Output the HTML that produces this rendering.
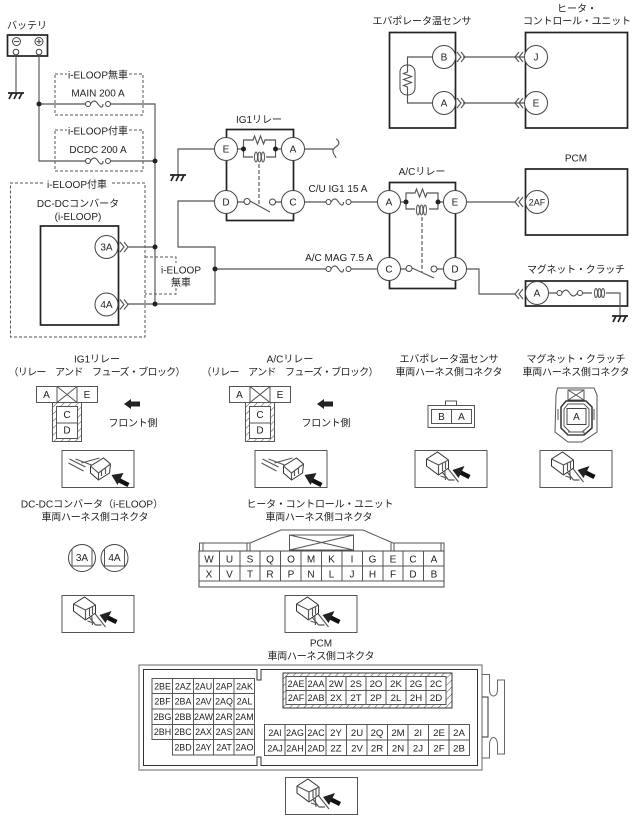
<!DOCTYPE html>
<html><head><meta charset="utf-8"><style>
html,body{margin:0;padding:0;background:#fff}
svg{display:block}
text{font-family:"Liberation Sans","Noto Sans CJK JP",sans-serif;font-size:10px;fill:#222;text-anchor:middle}
.w{fill:none;stroke:#555;stroke-width:1.15}
.k{fill:none;stroke:#222;stroke-width:1.7}
.d{fill:none;stroke:#555;stroke-width:1;stroke-dasharray:3 2}
.c{fill:#fff;stroke:#444;stroke-width:1}
.g{fill:none;stroke:#555;stroke-width:1}
.b{fill:#222;stroke:none}
.s text{font-size:8.9px}
</style></head><body>
<svg width="636" height="815" viewBox="0 0 636 815" xmlns="http://www.w3.org/2000/svg">
<defs>
<pattern id="h" width="5" height="5" patternUnits="userSpaceOnUse" patternTransform="rotate(-45)"><rect width="5" height="5" fill="#fff"/><line x1="0" y1="0" x2="5" y2="0" stroke="#555" stroke-width="1.1"/></pattern>
<g id="fuse"><rect x="0" y="-4" width="25" height="8" fill="#fff"/><circle class="c" cx="2.5" r="2.5"/><circle class="c" cx="22.5" r="2.5"/><path class="w" d="M5,0c2.500,-4 5,-4 7.500,0s5,4 5,0"/></g>
<g id="gnd"><path d="M-8,0H8M-4,0L-7,6M1,0L-2,6M6,0L3,6" fill="none" stroke="#222" stroke-width="1.700"/></g>
<path id="chR" class="w" d="M0,-5L4,0L0,5M4,-5L8,0L4,5"/>
<path id="chL" class="w" d="M8,-5L4,0L8,5M4,-5L0,0L4,5"/>
<g id="iconA"><rect x="0.500" y="0.500" width="72" height="37" class="g" fill="#fff"/>
<path class="w" d="M8,9L24,17M7,13L22,21M14,9L30,15M20,13L38,8"/>
<path fill="#fff" stroke="#333" d="M29,16L42,8L49,14L48,23L37,30L29,23Z"/><path class="w" d="M29,16L37,23L49,14M37,23V30M40,20V26M44,18V24"/>
<path stroke="#111" stroke-width="4.500" d="M67,35L55,29"/><path class="b" d="M50,25L62,23L56,35Z"/></g>
<g id="iconB"><rect x="0.500" y="0.500" width="72" height="37" class="g" fill="#fff"/>
<path class="w" d="M26,20L34,30M30,18L31,30M33,18L44,32M34,30H40M32,28L26,26"/>
<path fill="#fff" stroke="#333" d="M12,9L23,2L34,10L34,18L24,25L12,16Z"/><path class="w" d="M12,9L24,15L34,10M24,15V25M28,13V21M31,12V19"/>
<path stroke="#111" stroke-width="4.500" d="M55,27L45,22"/><path class="b" d="M38,20L50,16L44,28Z"/></g>
</defs>

<!-- Battery -->
<text x="27" y="29">バッテリ</text>
<rect x="7.500" y="35" width="40" height="21" class="k"/>
<circle class="c" cx="16.500" cy="41.500" r="4"/><path class="w" d="M14,41.500H19"/>
<circle class="c" cx="39" cy="41.500" r="4"/><path class="w" d="M36.500,41.500H41.500M39,39V44"/>
<circle class="c" cx="16" cy="52" r="2.800"/><circle class="c" cx="39" cy="52" r="2.800"/>
<path class="w" d="M16,55V92M39,55V161H155M39,104H155V304M155,247H128M128,304H215V247H178V201H215M215,269H378"/>
<use href="#gnd" x="16" y="93"/>
<path class="d" d="M55,74H67M129,74H143V115H55V74"/>
<path class="d" d="M55,130H67M129,130H143V171H55V130"/>
<text x="98" y="78.500">i-ELOOP無車</text>
<text x="98" y="96.500">MAIN 200 A</text>
<text x="98" y="134.500">i-ELOOP付車</text>
<text x="98" y="153">DCDC 200 A</text>
<use href="#fuse" x="85.500" y="104"/><use href="#fuse" x="85.500" y="161"/>
<path class="d" d="M43,183H10.500V337H145V183H110"/>
<path class="d" d="M145,257H176V263M176,283V294H145"/>
<text x="77" y="188">i-ELOOP付車</text>
<text x="78" y="207">DC-DCコンバータ</text>
<text x="78" y="220">(i-ELOOP)</text>
<text x="181" y="273.500">i-ELOOP</text>
<text x="181" y="286">無車</text>
<rect x="40.500" y="226" width="78" height="99" class="k"/>
<circle class="c" cx="106.500" cy="247" r="11.500"/><text x="106.500" y="250.500">3A</text>
<circle class="c" cx="106.500" cy="304.500" r="11.500"/><text x="106.500" y="308">4A</text>
<use href="#chR" x="120" y="247"/><use href="#chR" x="120" y="304.500"/>
<circle class="b" cx="39" cy="104" r="2.500"/><circle class="b" cx="155" cy="161" r="2.500"/><circle class="b" cx="155" cy="247" r="2.500"/><circle class="b" cx="155" cy="304" r="2.500"/><circle class="b" cx="215" cy="269" r="2.500"/>

<!-- IG1 relay -->
<text x="259" y="123">IG1リレー</text>
<rect x="226.500" y="129.500" width="67" height="91" class="k"/>
<path class="w" d="M215,149H178V175M304,149H333M304,202H378"/>
<use href="#gnd" x="178" y="175"/>
<path class="w" d="M336,139c3,1 4,5 1,7c-3,2 -5,4 -4,6c1,3 3,5 3,6"/>
<path class="w" d="M237,149H243.500V140H253l1.500,-4 3,8 3,-8 3,8 1.500,-4H275.500V157H266M243.500,149V157H253M275.500,149H282"/>
<ellipse class="g" cx="256" cy="157" rx="1.500" ry="5"/><ellipse class="g" cx="259.500" cy="157" rx="1.500" ry="5"/><ellipse class="g" cx="263" cy="157" rx="1.500" ry="5"/>
<path class="w" style="stroke-dasharray:4 2" d="M259,164V205"/>
<circle class="b" cx="243.500" cy="149" r="2.500"/><circle class="b" cx="275.500" cy="149" r="2.500"/>
<path class="w" d="M237,202H244M250,201L270,212M275.500,202H282"/>
<circle class="c" cx="247" cy="201.500" r="3"/><circle class="c" cx="272.500" cy="202" r="3"/>
<circle class="c" cx="226" cy="149" r="11.500"/><text x="226" y="152.500">E</text>
<circle class="c" cx="293" cy="149" r="11.500"/><text x="293" y="152.500">A</text>
<circle class="c" cx="226" cy="202" r="11.500"/><text x="226" y="205.500">D</text>
<circle class="c" cx="293" cy="202" r="11.500"/><text x="293" y="205.500">C</text>
<text x="338" y="192">C/U IG1 15 A</text>
<text x="339" y="261">A/C MAG 7.5 A</text>
<use href="#fuse" x="326" y="202"/><use href="#fuse" x="326" y="269"/>

<!-- A/C relay -->
<text x="422" y="175">A/Cリレー</text>
<rect x="389.500" y="182.500" width="66" height="106" class="k"/>
<path class="w" d="M400,202H406V193H415l1.500,-4 3,8 3,-8 3,8 1.500,-4H438V209H429M406,202V209H415M438,202H444"/>
<ellipse class="g" cx="418" cy="210" rx="1.500" ry="5"/><ellipse class="g" cx="421.500" cy="210" rx="1.500" ry="5"/><ellipse class="g" cx="425" cy="210" rx="1.500" ry="5"/>
<path class="w" style="stroke-dasharray:4 2" d="M422,217V272"/>
<circle class="b" cx="406" cy="202" r="2.500"/><circle class="b" cx="438" cy="202" r="2.500"/>
<path class="w" d="M400,269H406M412,268L434,278M437,269H444M467,202H515M467,269H479V294H515"/>
<circle class="c" cx="409" cy="268.500" r="3"/><circle class="c" cx="434" cy="269" r="3"/>
<circle class="c" cx="389" cy="202" r="11.500"/><text x="389" y="205.500">A</text>
<circle class="c" cx="455" cy="202" r="11.500"/><text x="455" y="205.500">E</text>
<circle class="c" cx="389" cy="269" r="11.500"/><text x="389" y="272.500">C</text>
<circle class="c" cx="455" cy="269" r="11.500"/><text x="455" y="272.500">D</text>

<!-- Evaporator / heater -->
<text x="422" y="24.500" textLength="99">エバポレータ温センサ</text>
<text x="577" y="12">ヒータ・</text>
<text x="577" y="24.500" textLength="108">コントロール・ユニット</text>
<rect x="389.500" y="32.500" width="66" height="95.500" class="k"/>
<rect x="525.500" y="32.500" width="102" height="95.500" class="k"/>
<path class="w" d="M433,57H407.500V65M407.500,95V103H433M463,57H525M463,103H525"/>
<rect x="400" y="65" width="15" height="30" rx="7" class="c"/>
<path class="w" d="M407.500,65V72l-4,1.500 8,3 -8,3 8,3 -8,3 4,1.500V95"/>
<circle class="c" cx="444" cy="57" r="11.500"/><text x="444" y="60.500">B</text>
<circle class="c" cx="444" cy="103" r="11.500"/><text x="444" y="106.500">A</text>
<use href="#chR" x="457" y="57"/><use href="#chR" x="457" y="103"/>
<use href="#chL" x="515" y="57"/><use href="#chL" x="515" y="103"/>
<circle class="c" cx="536" cy="57" r="11.500"/><text x="536" y="60.500">J</text>
<circle class="c" cx="536" cy="103" r="11.500"/><text x="536" y="106.500">E</text>

<!-- PCM -->
<text x="576" y="161.500">PCM</text>
<rect x="525.500" y="169" width="102" height="66" class="k"/>
<use href="#chL" x="515" y="202"/>
<circle class="c" cx="537" cy="202" r="11.500"/><text x="537" y="205.500" style="font-size:9px">2AF</text>

<!-- Magnet clutch -->
<text x="576" y="273" textLength="98">マグネット・クラッチ</text>
<rect x="525.500" y="281" width="102" height="25" class="k"/>
<use href="#chL" x="515" y="294"/>
<path class="w" d="M549,293H557M582,293H592M606,293H620V315"/>
<circle class="c" cx="559.500" cy="293" r="2.500"/><circle class="c" cx="580" cy="293" r="2.500"/>
<path class="w" d="M562,293c3,-4 5,-4 7.500,0s5,4 8,0"/>
<ellipse class="g" cx="596" cy="293" rx="1.500" ry="4.500"/><ellipse class="g" cx="599.500" cy="293" rx="1.500" ry="4.500"/><ellipse class="g" cx="603" cy="293" rx="1.500" ry="4.500"/>
<circle class="c" cx="537" cy="293" r="11.500"/><text x="537" y="296.500">A</text>
<use href="#gnd" x="620" y="316"/>

<!-- Section 2 -->
<text x="97" y="362.500">IG1リレー</text>
<text x="97" y="375.500" textLength="177">（リレー　アンド　フューズ・ブロック）</text>
<text x="290" y="362.500">A/Cリレー</text>
<text x="290" y="375.500" textLength="177">（リレー　アンド　フューズ・ブロック）</text>
<text x="449" y="362.500" textLength="99">エバポレータ温センサ</text>
<text x="449" y="375.500" textLength="107">車両ハーネス側コネクタ</text>
<text x="576" y="362.500" textLength="99">マグネット・クラッチ</text>
<text x="576" y="375.500" textLength="107">車両ハーネス側コネクタ</text>

<g id="rel">
<rect x="36.500" y="386.500" width="61" height="16" class="g" fill="#fff"/>
<path class="g" d="M57,386.500V402.500M77,386.500V402.500M57,386.500L77,402.500M77,386.500L57,402.500"/>
<rect x="52.500" y="402.500" width="29" height="39" fill="url(#h)" stroke="#555"/>
<rect x="56.500" y="406.500" width="21" height="32" fill="#fff" stroke="#555"/>
<path class="g" d="M56.500,423H77.500"/>
<text x="46.500" y="398">A</text><text x="87" y="398">E</text><text x="67" y="418">C</text><text x="67" y="433.500">D</text>
<path class="b" d="M124,404L131,399V401.500H140V406.500H131V409Z"/>
<text x="133" y="426.500" textLength="49">フロント側</text>
<use href="#iconA" x="61.500" y="450"/>
</g>
<use href="#rel" x="193" y="0"/>

<rect x="445.500" y="401" width="11" height="4.500" class="g"/>
<rect x="428" y="405.500" width="46.500" height="22" class="g" fill="#fff"/>
<rect x="431.500" y="409.500" width="40" height="14" class="g"/>
<path class="g" d="M451.500,409.500V423.500"/>
<text x="441.500" y="420">B</text><text x="461.500" y="420">A</text>
<use href="#iconB" x="414.500" y="450"/>

<path class="g" d="M556,395L557.500,388H594L597,395V432L582,442H568L555,432Z"/>
<rect x="568" y="390" width="16" height="10" class="g"/><path class="g" d="M568,390L584,400M584,390L568,400"/>
<path d="M566,401H586L592,407V428L584,435H568L561,428V407Z" fill="#fff" stroke="#333" stroke-width="1.500"/>
<path class="g" d="M568,404H584L589,409V426L582,432H570L564,426V409Z"/>
<path class="g" d="M558,409V420M594,409V420M568,432H584V435H568"/>
<rect x="567" y="408.500" width="19" height="16" class="c"/><text x="576.500" y="420">A</text>
<use href="#iconB" x="539.500" y="450"/>

<!-- Section 3 -->
<text x="92" y="507.500">DC-DCコンバータ（i-ELOOP）</text>
<text x="95" y="520.500" textLength="107">車両ハーネス側コネクタ</text>
<text x="320" y="507.500" textLength="147">ヒータ・コントロール・ユニット</text>
<text x="319" y="520.500" textLength="107">車両ハーネス側コネクタ</text>
<circle class="c" cx="82" cy="558" r="13.500"/><path class="g" d="M72,549V566M92,549V566M72,566H92"/><text x="82" y="561">3A</text>
<circle class="c" cx="114.500" cy="558" r="13.500"/><path class="g" d="M104.500,549V566M124.500,549V566M104.500,566H124.500"/><text x="114.500" y="561">4A</text>
<use href="#iconB" x="61.500" y="595"/>

<path class="g" d="M199.500,551V543H250L281,530H363L393,543H444V551"/>
<path class="g" d="M203,543V551M247,543V551M250,543V551M391,543V551M394,543V551M441,543V551"/>
<rect x="289.500" y="535" width="64" height="15" class="g"/><path class="g" d="M289.500,535L353.500,550M353.500,535L289.500,550"/>
<rect x="199" y="551" width="245" height="36" fill="#fff" stroke="#444"/>
<path class="g" d="M199,566H444M199,581H444M219.500,551V581M240,551V581M260,551V581M280.500,551V581M301,551V581M321.500,551V581M342,551V581M362.500,551V581M383,551V581M403,551V581M423.500,551V581"/>
<g>
<text x="209" y="562.500">W</text><text x="229.500" y="562.500">U</text><text x="250" y="562.500">S</text><text x="270" y="562.500">Q</text><text x="291" y="562.500">O</text><text x="311" y="562.500">M</text><text x="331.500" y="562.500">K</text><text x="352" y="562.500">I</text><text x="372.500" y="562.500">G</text><text x="393" y="562.500">E</text><text x="413" y="562.500">C</text><text x="434" y="562.500">A</text>
<text x="209" y="577.500">X</text><text x="229.500" y="577.500">V</text><text x="250" y="577.500">T</text><text x="270" y="577.500">R</text><text x="291" y="577.500">P</text><text x="311" y="577.500">N</text><text x="331.500" y="577.500">L</text><text x="352" y="577.500">J</text><text x="372.500" y="577.500">H</text><text x="393" y="577.500">F</text><text x="413" y="577.500">D</text><text x="434" y="577.500">B</text>
</g>
<use href="#iconB" x="284.500" y="595"/>

<!-- PCM connector -->
<text x="321" y="646.500">PCM</text>
<text x="321" y="659.500" textLength="107">車両ハーネス側コネクタ</text>
<rect x="139" y="665" width="343" height="105" fill="#fff" stroke="#888" stroke-width="1.300"/>
<path d="M143.500,669.500H257V680H261V669.500H477.500V765.500H261V757H257V765.500H143.500Z" fill="#fff" stroke="#333"/>
<path d="M482,674.500H489.500V690C489.500,698 497.500,698 497.500,690V680H504.500V754H497.500V745C497.500,735 489.500,735 489.500,745V758H482" fill="none" stroke="#666"/>
<path d="M482,697H488V737H482" fill="none" stroke="#333"/>
<g class="s">
<path class="g" d="M152,678.500H254.500V755H172.500V739.500H152ZM152,693.500H254.500M152,709H254.500M152,724.500H254.500M152,739.500H254.500M172.500,678.500V755M193.500,678.500V755M213.500,678.500V755M234,678.500V755"/>
<text x="162.500" y="689.500">2BE</text><text x="183" y="689.500">2AZ</text><text x="203.500" y="689.500">2AU</text><text x="224" y="689.500">2AP</text><text x="244.500" y="689.500">2AK</text>
<text x="162.500" y="704.500">2BF</text><text x="183" y="704.500">2BA</text><text x="203.500" y="704.500">2AV</text><text x="224" y="704.500">2AQ</text><text x="244.500" y="704.500">2AL</text>
<text x="162.500" y="720">2BG</text><text x="183" y="720">2BB</text><text x="203.500" y="720">2AW</text><text x="224" y="720">2AR</text><text x="244.500" y="720">2AM</text>
<text x="162.500" y="735">2BH</text><text x="183" y="735">2BC</text><text x="203.500" y="735">2AX</text><text x="224" y="735">2AS</text><text x="244.500" y="735">2AN</text>
<text x="183" y="750.500">2BD</text><text x="203.500" y="750.500">2AY</text><text x="224" y="750.500">2AT</text><text x="244.500" y="750.500">2AO</text>

<rect x="283" y="673" width="169" height="35" fill="url(#h)" stroke="#333"/>
<rect x="286" y="676.500" width="160" height="28" fill="#fff" stroke="#555"/>
<path class="g" d="M286,690.500H446M306,676.500V704.500M326,676.500V704.500M346,676.500V704.500M366,676.500V704.500M386,676.500V704.500M406,676.500V704.500M426,676.500V704.500"/>
<text x="296" y="687">2AE</text><text x="316" y="687">2AA</text><text x="336" y="687" style="font-size:9.600px">2W</text><text x="356" y="687" style="font-size:9.600px">2S</text><text x="376" y="687" style="font-size:9.600px">2O</text><text x="396" y="687" style="font-size:9.600px">2K</text><text x="416" y="687" style="font-size:9.600px">2G</text><text x="436" y="687" style="font-size:9.600px">2C</text>
<text x="296" y="701">2AF</text><text x="316" y="701">2AB</text><text x="336" y="701" style="font-size:9.600px">2X</text><text x="356" y="701" style="font-size:9.600px">2T</text><text x="376" y="701" style="font-size:9.600px">2P</text><text x="396" y="701" style="font-size:9.600px">2L</text><text x="416" y="701" style="font-size:9.600px">2H</text><text x="436" y="701" style="font-size:9.600px">2D</text>

<rect x="264.500" y="724.500" width="205" height="31" class="g"/>
<path class="g" d="M264.500,740H469.500M285,724.500V755.500M305.500,724.500V755.500M326,724.500V755.500M346.500,724.500V755.500M367,724.500V755.500M387.500,724.500V755.500M408,724.500V755.500M428.500,724.500V755.500M449,724.500V755.500"/>
<text x="275" y="736">2AI</text><text x="295" y="736">2AG</text><text x="316" y="736">2AC</text><text x="336" y="736" style="font-size:9.600px">2Y</text><text x="357" y="736" style="font-size:9.600px">2U</text><text x="377" y="736" style="font-size:9.600px">2Q</text><text x="398" y="736" style="font-size:9.600px">2M</text><text x="418" y="736" style="font-size:9.600px">2I</text><text x="439" y="736" style="font-size:9.600px">2E</text><text x="459" y="736" style="font-size:9.600px">2A</text>
<text x="275" y="751.500">2AJ</text><text x="295" y="751.500">2AH</text><text x="316" y="751.500">2AD</text><text x="336" y="751.500" style="font-size:9.600px">2Z</text><text x="357" y="751.500" style="font-size:9.600px">2V</text><text x="377" y="751.500" style="font-size:9.600px">2R</text><text x="398" y="751.500" style="font-size:9.600px">2N</text><text x="418" y="751.500" style="font-size:9.600px">2J</text><text x="439" y="751.500" style="font-size:9.600px">2F</text><text x="459" y="751.500" style="font-size:9.600px">2B</text>
</g>
<use href="#iconB" x="285" y="777"/>
</svg>
</body></html>
